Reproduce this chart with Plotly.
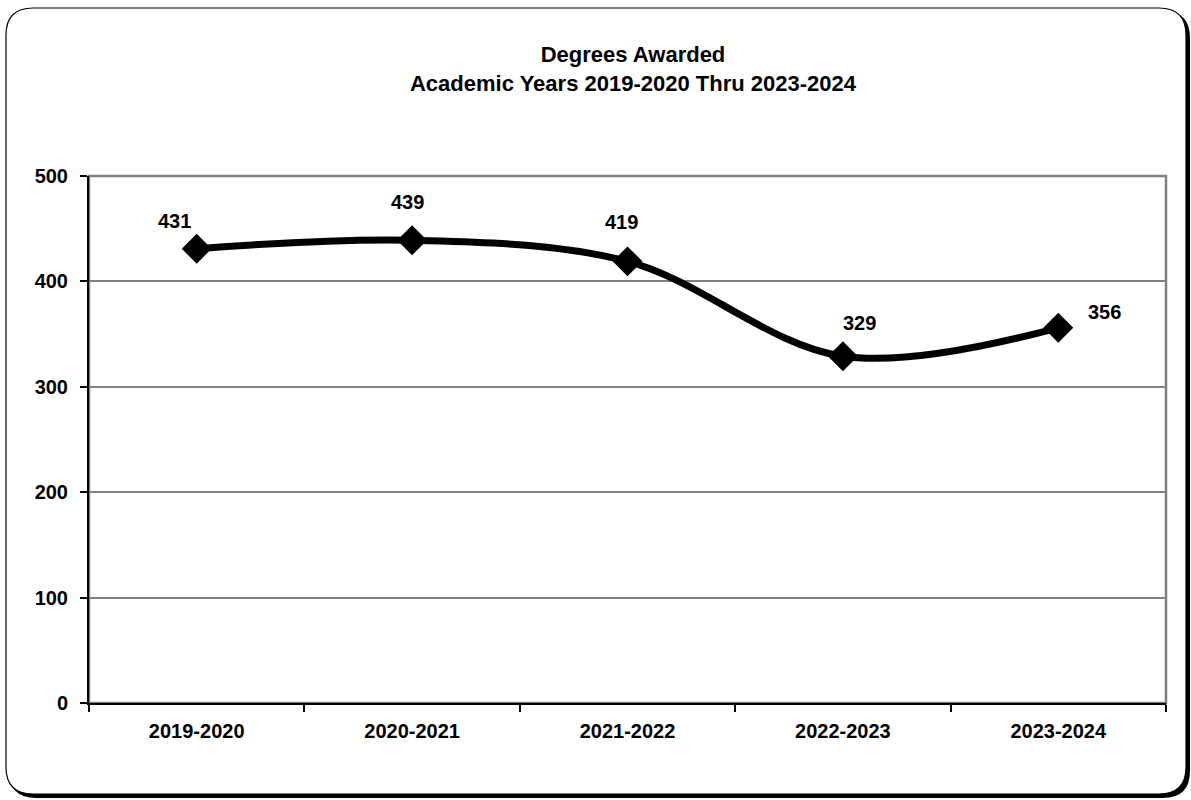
import plotly.graph_objects as go

# ---- data ----
years = ["2019-2020", "2020-2021", "2021-2022", "2022-2023", "2023-2024"]
degrees = [431, 439, 419, 329, 356]
y_ticks = [0, 100, 200, 300, 400, 500]
title_lines = ["Degrees Awarded", "Academic Years 2019-2020 Thru 2023-2024"]

# ---- styles ----
FONT = "Liberation Sans, Arial, sans-serif"
W, H = 1191, 800
L, R, T, B = 89, 1166, 176, 703  # plot area in pixels
label_shift = [(-22, 28), (-5, 38), (-6, 39), (17, 33), (46, 16)]


def px(x):
    return (x - L) / (R - L)


def py(y):
    return (B - y) / (B - T)


def rounded_rect(x0, y0, x1, y1, r):
    p = []
    p.append(f"M {px(x0 + r)},{py(y0)}")
    p.append(f"L {px(x1 - r)},{py(y0)}")
    p.append(f"Q {px(x1)},{py(y0)} {px(x1)},{py(y0 + r)}")
    p.append(f"L {px(x1)},{py(y1 - r)}")
    p.append(f"Q {px(x1)},{py(y1)} {px(x1 - r)},{py(y1)}")
    p.append(f"L {px(x0 + r)},{py(y1)}")
    p.append(f"Q {px(x0)},{py(y1)} {px(x0)},{py(y1 - r)}")
    p.append(f"L {px(x0)},{py(y0 + r)}")
    p.append(f"Q {px(x0)},{py(y0)} {px(x0 + r)},{py(y0)}")
    p.append("Z")
    return " ".join(p)


fig = go.Figure()
fig.add_trace(go.Scatter(
    x=years, y=degrees, mode="lines+markers",
    line=dict(color="black", width=7, shape="spline", smoothing=1.0),
    marker=dict(symbol="diamond", size=23, color="black"),
    showlegend=False, hoverinfo="x+y",
))

for xv, yv, (dx, dy) in zip(years, degrees, label_shift):
    fig.add_annotation(
        x=xv, y=yv, text="<b>" + str(yv) + "</b>", showarrow=False,
        xshift=dx, yshift=dy,
        font=dict(family=FONT, size=20, color="black"),
    )

shapes = [
    # shadow
    dict(type="path", xref="paper", yref="paper",
         path=rounded_rect(9, 11, 1190, 798, 27),
         fillcolor="black", line=dict(width=0), layer="below"),
    # chart frame
    dict(type="path", xref="paper", yref="paper",
         path=rounded_rect(6, 8, 1186, 794, 27),
         fillcolor="white", line=dict(color="black", width=1.2), layer="below"),
    # plot area border
    dict(type="rect", xref="paper", yref="paper", x0=0, x1=1, y0=0, y1=1,
         line=dict(color="#808080", width=2.5), fillcolor="rgba(0,0,0,0)", layer="below"),
]

fig.update_layout(
    width=W, height=H,
    margin=dict(l=L, r=W - R, t=T, b=H - B, pad=0),
    paper_bgcolor="white",
    plot_bgcolor="rgba(0,0,0,0)",
    font=dict(family=FONT, size=20, color="black"),
    title=dict(
        text="<b>" + "<br>".join(title_lines) + "</b>",
        x=633 / W, xanchor="center", xref="container",
        y=1 - 62 / H, yanchor="middle", yref="container",
        font=dict(family=FONT, size=22, color="black"),
    ),
    shapes=shapes,
)

fig.update_xaxes(
    type="category", range=[-0.5, 4.5],
    showline=True, linecolor="black", linewidth=2,
    ticks="outside", ticklen=7, tickcolor="black", tickwidth=1.5,
    tickson="boundaries", showgrid=False, zeroline=False,
    tickfont=dict(family=FONT, size=20, color="black", weight="bold"),
    ticklabelstandoff=9,
)
fig.update_yaxes(
    range=[0, 500], tickvals=y_ticks,
    showline=True, linecolor="black", linewidth=2,
    ticks="outside", ticklen=7, tickcolor="black", tickwidth=1.5,
    showgrid=True, gridcolor="#808080", gridwidth=1.5, zeroline=False,
    tickfont=dict(family=FONT, size=20, color="black", weight="bold"),
    ticklabelstandoff=8,
)

fig.write_html(
    "out.html",
    config={"displayModeBar": False},
    post_script="document.body.style.margin='0';document.body.style.overflow='hidden';",
)
